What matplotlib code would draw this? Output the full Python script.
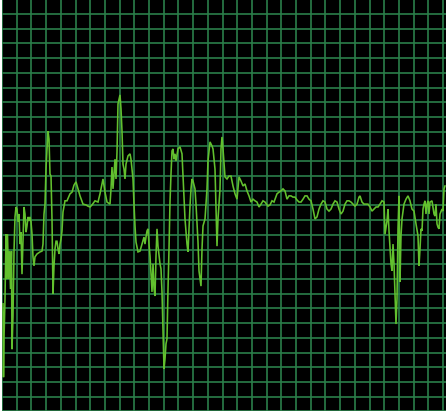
import numpy as np
import matplotlib
matplotlib.use("Agg")
import matplotlib.pyplot as plt

# Signal trace: sample index and level (percent of full scale)
sample = [1, 1.5, 2, 3, 4, 4.5, 5.5, 6.5, 7.5, 8.5, 9.5, 10, 11, 12, 13, 14, 15, 16, 17, 18,
          19, 20, 21, 22, 23, 24, 25, 26, 27, 28, 29, 30, 31, 32, 33, 35, 38, 40, 41, 42,
          43, 44, 45, 46, 47, 48, 49, 50, 51, 52, 53, 54, 55, 56, 57, 58, 59, 60, 61, 63,
          65, 68, 70, 72, 74, 76, 78, 81, 84, 86, 88, 90, 93, 96, 98, 100, 101, 103, 105, 108,
          109, 110, 111, 113, 114, 115, 116, 118, 119, 120, 121, 122, 123, 124, 126, 128, 129, 130, 131, 132,
          133, 134, 136, 138, 140, 142, 143, 144, 145, 146, 147, 148, 149, 150, 151, 152, 153, 154, 155, 156,
          158, 159, 160, 161, 162, 163, 164, 165, 166, 167, 168, 169, 170, 171, 172, 173, 174, 176, 178, 180,
          181, 183, 185, 186, 187, 188, 189, 190, 191, 193, 194, 195, 196, 197, 199, 200, 201, 203, 205, 206,
          208, 210, 211, 213, 214, 215, 216, 218, 219, 220, 221, 223, 225, 227, 229, 231, 233, 235, 237, 239,
          241, 243, 245, 247, 249, 251, 253, 255, 257, 259, 261, 263, 266, 268, 270, 272, 275, 277, 279, 281,
          283, 285, 287, 289, 291, 293, 295, 297, 299, 301, 303, 305, 307, 309, 311, 313, 315, 317, 319, 321,
          323, 325, 327, 329, 331, 333, 335, 337, 339, 341, 343, 345, 347, 349, 351, 353, 355, 357, 358, 360,
          362, 364, 366, 368, 370, 372, 374, 376, 378, 380, 382, 383, 385, 386, 387, 389, 390, 391, 392, 393,
          394, 395, 396, 397, 398, 399, 400, 402, 404, 406, 408, 410, 412, 414, 416, 417, 418, 419, 420, 421,
          422, 423, 424, 425, 426, 427, 428, 430, 432, 433, 434, 435, 436, 437, 438, 440, 441, 442, 443]
level = [26.1, 8.3, 17.6, 27.3, 43.0, 32.1, 43.0, 32.1, 38.9, 29.7, 38.9, 15.1, 23.1, 38.7, 47.2, 49.6, 49.1, 46.0, 47.9, 40.6,
         43.5, 33.3, 41.8, 49.6, 47.9, 43.5, 45.0, 47.2, 46.2, 47.2, 46.0, 43.0, 37.5, 35.3, 37.5, 38.2, 38.7, 38.9, 40.6, 47.9,
         50.3, 58.8, 63.7, 68.0, 66.1, 57.6, 57.1, 46.7, 28.5, 35.3, 39.4, 41.3, 41.3, 39.4, 38.2, 40.6, 41.8, 43.8, 48.4, 51.1,
         51.1, 52.8, 53.2, 54.9, 55.7, 54.0, 52.3, 50.3, 50.1, 49.8, 49.6, 50.1, 51.1, 50.8, 52.8, 55.2, 56.4, 53.2, 50.8, 50.3,
         54.0, 59.3, 54.0, 61.2, 56.4, 62.9, 74.6, 76.8, 73.4, 68.0, 60.0, 58.8, 56.4, 60.0, 62.0, 62.5, 61.2, 58.8, 56.4, 50.3,
         45.0, 41.1, 38.7, 38.9, 40.6, 42.3, 40.6, 42.3, 43.8, 44.3, 40.6, 37.7, 33.3, 29.0, 35.8, 29.7, 28.0, 37.7, 44.3, 40.1,
         35.8, 34.6, 29.0, 20.0, 10.3, 12.7, 16.4, 17.6, 29.7, 39.4, 50.8, 57.6, 63.2, 63.7, 61.2, 62.5, 60.8, 63.7, 64.2, 62.5,
         57.1, 46.7, 40.6, 38.7, 44.3, 49.8, 54.0, 56.4, 55.9, 54.0, 50.3, 45.5, 41.1, 34.1, 30.4, 39.4, 45.0, 46.7, 54.0, 60.8,
         65.4, 64.4, 63.7, 58.8, 49.1, 40.1, 46.7, 54.0, 63.7, 66.6, 63.7, 56.9, 56.4, 57.1, 57.1, 54.7, 52.8, 51.5, 56.9, 55.9,
         54.7, 55.2, 53.5, 52.3, 50.8, 51.5, 51.1, 50.8, 49.6, 50.3, 51.1, 50.8, 49.8, 50.1, 51.1, 50.8, 52.8, 53.2, 53.5, 54.0,
         53.5, 51.5, 52.3, 52.3, 52.0, 52.0, 51.3, 50.8, 50.8, 51.5, 52.3, 52.3, 51.5, 51.1, 49.1, 46.7, 47.2, 49.1, 50.3, 51.1,
         50.8, 49.1, 48.6, 49.1, 50.3, 51.1, 50.8, 49.1, 47.9, 48.6, 50.3, 51.1, 51.1, 50.8, 50.3, 49.8, 50.3, 52.0, 52.3, 50.8,
         50.3, 50.3, 50.3, 49.6, 48.6, 49.1, 49.6, 49.6, 50.3, 51.1, 50.8, 43.0, 46.2, 49.1, 43.8, 35.8, 34.1, 40.6, 35.8, 28.5,
         21.2, 27.3, 44.3, 52.3, 31.4, 42.6, 46.7, 50.3, 51.5, 52.3, 51.1, 49.1, 48.6, 45.5, 42.6, 35.3, 39.4, 44.3, 43.8, 49.1,
         50.3, 51.1, 47.9, 50.3, 51.1, 47.9, 50.8, 51.1, 47.9, 47.4, 50.3, 45.5, 44.7, 44.3, 47.9, 49.1, 48.6, 54.0, 54.7]

n_samples = 444
x_cells = 30.2   # grid columns across the trace window
y_cells = 28     # grid rows over 0..100 %

fig = plt.figure(figsize=(4.46, 4.14), dpi=100)
fig.patch.set_facecolor("white")
ax = fig.add_axes([2 / 446, 1.6 / 414, 444 / 446, 412.1 / 414])
ax.set_facecolor("black")

ax.set_xlim(0, n_samples)
ax.set_ylim(0, 100)
ax.set_xticks(np.arange(0, n_samples, n_samples / x_cells))
ax.set_yticks(np.arange(0, 100.01, 100 / y_cells))
ax.grid(True, color="#2b7f4a", linewidth=1.2)
ax.set_axisbelow(True)
ax.tick_params(length=0, labelbottom=False, labelleft=False)
for sp in ax.spines.values():
    sp.set_visible(False)

ax.plot(sample, level, color="#62c02e", linewidth=1.15, solid_joinstyle="miter")

fig.savefig("out.png", dpi=100, facecolor="white")
